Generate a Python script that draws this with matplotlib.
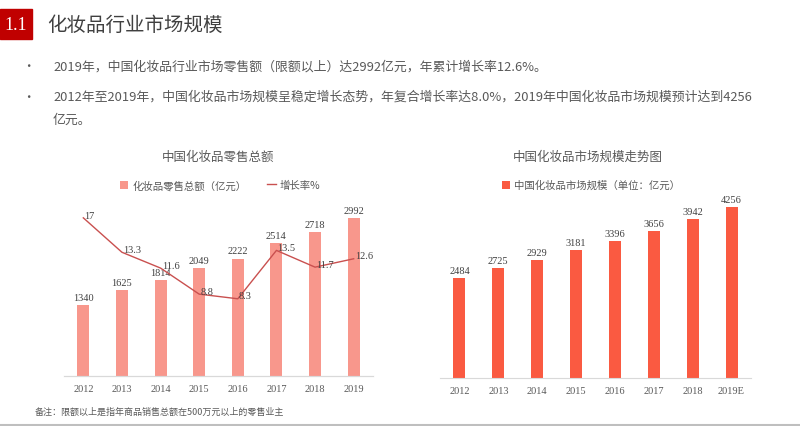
import matplotlib
matplotlib.use("Agg")
import matplotlib.pyplot as plt
from matplotlib.patches import Rectangle
from matplotlib.lines import Line2D

plt.rcParams['font.family'] = ['Noto Sans CJK SC', 'DejaVu Sans']

# ============ data =============
years = ['2012', '2013', '2014', '2015', '2016', '2017', '2018', '2019']
retail = [1340, 1625, 1814, 2049, 2222, 2514, 2718, 2992]
growth = [17, 13.3, 11.6, 8.8, 8.3, 13.5, 11.7, 12.6]

market_years = ['2012', '2013', '2014', '2015', '2016', '2017', '2018', '2019E']
market = [2484, 2725, 2929, 3181, 3396, 3656, 3942, 4256]

bullets = [
    '2019年，中国化妆品行业市场零售额（限额以上）达2992亿元，年累计增长率12.6%。',
    '2012年至2019年，中国化妆品市场规模呈稳定增长态势，年复合增长率达8.0%，2019年中国化妆品市场规模预计达到4256',
    '亿元。',
]

W, H = 800, 427
fig = plt.figure(figsize=(8, 4.27), dpi=100)


def fx(px):
    return px / W


def fy(py):
    return 1 - py / H


text_gray = '#595959'
num_font = ['Liberation Serif', 'DejaVu Serif']

# ============ header =============
fig.patches.append(Rectangle((0, fy(40)), fx(32), 30 / H, transform=fig.transFigure,
                             color='#C00000', zorder=0))
fig.text(fx(16), fy(25), '1.1', color='white', fontsize=13, ha='center', va='center',
         family=num_font)
fig.text(fx(47), fy(25), '化妆品行业市场规模', color='#404040', fontsize=14, va='center')

fig.text(fx(22), fy(67), '•', color=text_gray, fontsize=9, va='center')
fig.text(fx(53), fy(67), bullets[0], color=text_gray, fontsize=9.3, va='center')
fig.text(fx(22), fy(97), '•', color=text_gray, fontsize=9, va='center')
fig.text(fx(53), fy(97), bullets[1], color=text_gray, fontsize=9.3, va='center')
fig.text(fx(53), fy(120), bullets[2], color=text_gray, fontsize=9.3, va='center')

# ============ left chart =============
ax1 = fig.add_axes([fx(64), fy(377), fx(309), 187 / H])
x = list(range(len(years)))
bars = ax1.bar(x, retail, width=0.31, color='#F8978C', label='化妆品零售总额（亿元）')
ax1.set_ylim(0, 3540)
ax1.set_xlim(-0.5, 7.5)
for xi, v in zip(x, retail):
    ax1.text(xi, v + 60, str(v), ha='center', va='bottom', fontsize=7.5,
             color='#404040', family=num_font)

ax2 = ax1.twinx()
ax2.plot(x, growth, color='#C9504F', lw=1, label='增长率%')
ax2.set_ylim(0, 20.1)
for xi, v in zip(x, growth):
    ax2.text(xi + 0.03, v + 0.3, str(v), ha='left', va='center', fontsize=7.5,
             color='#404040', family=num_font)

for a in (ax1, ax2):
    for s in ('top', 'right', 'left'):
        a.spines[s].set_visible(False)
    a.set_yticks([])
    a.spines['bottom'].set_color('#D9D9D9')
ax1.set_xticks(x)
ax1.set_xticklabels(years, family=num_font, fontsize=7.5, color=text_gray)
ax1.tick_params(axis='x', length=0, pad=6)

fig.text(fx(218), fy(157), '中国化妆品零售总额', ha='center', va='center', fontsize=9,
         color=text_gray)
h1, l1 = ax1.get_legend_handles_labels()
h2, l2 = ax2.get_legend_handles_labels()
fig.legend(h1 + h2, l1 + l2, loc='center', bbox_to_anchor=(fx(220), fy(186)), ncol=2,
           frameon=False, fontsize=7.5, labelcolor=text_gray, handlelength=0.8,
           handleheight=0.8, columnspacing=2.0, handletextpad=0.4)

# ============ right chart =============
ax3 = fig.add_axes([fx(440), fy(379), fx(311), 189 / H])
x2 = list(range(len(market_years)))
ax3.bar(x2, market, width=0.31, color='#FA5A41', label='中国化妆品市场规模（单位：亿元）')
ax3.set_ylim(0, 4700)
ax3.set_xlim(-0.5, 7.5)
for xi, v in zip(x2, market):
    ax3.text(xi, v + 80, str(v), ha='center', va='bottom', fontsize=7.5,
             color='#404040', family=num_font)
for s in ('top', 'right', 'left'):
    ax3.spines[s].set_visible(False)
ax3.spines['bottom'].set_color('#D9D9D9')
ax3.set_yticks([])
ax3.set_xticks(x2)
ax3.set_xticklabels(market_years, family=num_font, fontsize=7.5, color=text_gray)
ax3.tick_params(axis='x', length=0, pad=6)

fig.text(fx(588), fy(157), '中国化妆品市场规模走势图', ha='center', va='center', fontsize=9,
         color=text_gray)
ax3.legend(loc='center', bbox_to_anchor=(fx(591), fy(186)),
           bbox_transform=fig.transFigure, frameon=False, fontsize=7.5,
           labelcolor=text_gray, handlelength=0.8, handleheight=0.8, handletextpad=0.4)

# ============ footer =============
fig.text(fx(35), fy(412), '备注：限额以上是指年商品销售总额在500万元以上的零售业主',
         fontsize=6.5, color=text_gray, va='center')
fig.lines.append(Line2D([0, 1], [fy(426), fy(426)], transform=fig.transFigure,
                        color='#BFBFBF', lw=1.5))

fig.savefig('out.png', dpi=100)
